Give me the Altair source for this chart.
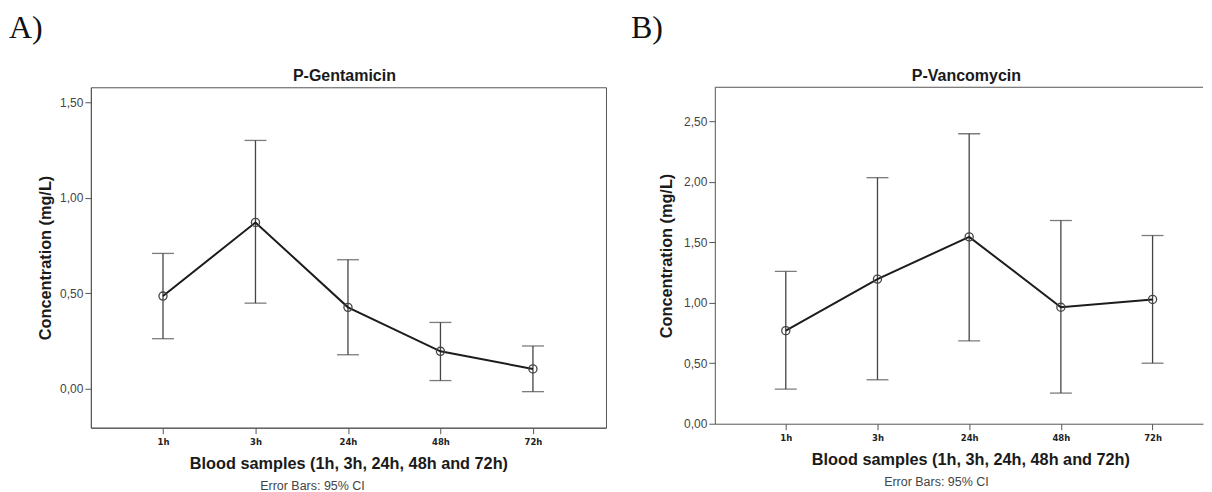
import altair as alt
import pandas as pd

# ---- data ----
times = ["1h", "3h", "24h", "48h", "72h"]

gent_mean = [0.486, 0.871, 0.427, 0.197, 0.105]
gent_low = [0.263, 0.449, 0.179, 0.044, -0.014]
gent_high = [0.709, 1.300, 0.676, 0.348, 0.225]

vanc_mean = [0.769, 1.195, 1.544, 0.962, 1.027]
vanc_low = [0.286, 0.363, 0.684, 0.253, 0.500]
vanc_high = [1.258, 2.033, 2.396, 1.679, 1.555]

gent_ticks = [0.0, 0.5, 1.0, 1.5]
vanc_ticks = [0.0, 0.5, 1.0, 1.5, 2.0, 2.5]

FRAME = "#555555"
BAR = "#444444"
LINE = "#1c1c1c"

x_label_expr = "[" + ",".join(f"'{t}'" for t in times) + "][datum.value]"
y_label_expr = "replace(format(datum.value, '.2f'), '.', ',')"


def panel(mean, low, high, title, letter, ydomain, yticks, xdomain, width, height,
          ytitle_pad, framed, title_x, xtitle_x, letter_x):
    df = pd.DataFrame({"idx": list(range(len(times))), "time": times,
                       "mean": mean, "low": low, "high": high})
    xscale = alt.Scale(domain=xdomain, nice=False, zero=False)
    yscale = alt.Scale(domain=ydomain, nice=False, zero=False)
    xaxis_kw = dict(values=list(range(len(times))), labelExpr=x_label_expr,
                    title="Blood samples (1h, 3h, 24h, 48h and 72h)",
                    grid=False, domainColor=FRAME, tickColor=FRAME, tickSize=6,
                    labelFont="DejaVu Sans", labelFontWeight="bold", labelFontSize=8.5,
                    labelColor="#222222", labelPadding=4,
                    titleFont="Liberation Sans", titleFontSize=16.3, titleFontWeight="bold",
                    titleColor="#1a1a1a", titlePadding=9)
    if xtitle_x is not None:
        xaxis_kw["titleX"] = xtitle_x
    xaxis = alt.Axis(**xaxis_kw)
    yaxis = alt.Axis(values=yticks, labelExpr=y_label_expr, title="Concentration (mg/L)",
                     grid=False, domainColor=FRAME, tickColor=FRAME, tickSize=6,
                     labelFont="Liberation Sans", labelFontSize=12, labelColor="#444444",
                     labelPadding=2,
                     titleFont="Liberation Sans", titleFontSize=16.3, titleFontWeight="bold",
                     titleColor="#1a1a1a", titlePadding=ytitle_pad)
    X = alt.X("idx:Q", scale=xscale, axis=xaxis)
    base = alt.Chart(df)
    rules = base.mark_rule(color=BAR, strokeWidth=1.3).encode(
        x=X, y=alt.Y("low:Q", scale=yscale, axis=yaxis), y2="high:Q")
    cap_lo = base.mark_tick(orient="horizontal", size=22, thickness=1.3, color=BAR).encode(
        x=X, y=alt.Y("low:Q", scale=yscale, axis=yaxis))
    cap_hi = base.mark_tick(orient="horizontal", size=22, thickness=1.3, color=BAR).encode(
        x=X, y=alt.Y("high:Q", scale=yscale, axis=yaxis))
    line = base.mark_line(color=LINE, strokeWidth=2).encode(
        x=X, y=alt.Y("mean:Q", scale=yscale, axis=yaxis))
    pts = base.mark_point(shape="circle", size=66, filled=False, color=BAR,
                          strokeWidth=1.3, opacity=1).encode(
        x=X, y=alt.Y("mean:Q", scale=yscale, axis=yaxis))
    lab = alt.Chart(pd.DataFrame({"t": [letter]})).mark_text(
        font="Liberation Serif", fontSize=32, align="left", baseline="top",
        color="#111111").encode(text="t:N", x=alt.value(letter_x), y=alt.value(-74))
    ttl = alt.Chart(pd.DataFrame({"t": [title]})).mark_text(
        font="Liberation Sans", fontSize=16, fontWeight="bold", align="center",
        baseline="alphabetic", color="#1a1a1a").encode(
        text="t:N", x=alt.value(title_x), y=alt.value(-6))
    note = alt.Chart(pd.DataFrame({"t": ["Error Bars: 95% CI"]})).mark_text(
        font="Liberation Sans", fontSize=12.5, align="center", baseline="middle",
        color="#444444").encode(text="t:N", x=alt.value(222), y=alt.value(height + 58))
    layers = [rules, cap_lo, cap_hi, line, pts, lab, ttl, note]
    if not framed:
        top = alt.Chart(pd.DataFrame({"t": [0]})).mark_rule(color=FRAME, strokeWidth=1).encode(
            x=alt.value(0), x2=alt.value(width), y=alt.value(0))
        layers.append(top)
    return alt.layer(*layers).properties(
        width=width, height=height,
        view=alt.ViewBackground(stroke=FRAME if framed else None, strokeWidth=1))


A = panel(gent_mean, gent_low, gent_high, "P-Gentamicin", "A)",
          [-0.2025, 1.578], gent_ticks, [-0.78, 4.79], 516, 341, 6, True, 254, None, -82)
B = panel(vanc_mean, vanc_low, vanc_high, "P-Vancomycin", "B)",
          [0.0, 2.78], vanc_ticks, [-0.774, 4.55], 489, 337, 9, False, 252, 256, -84)

chart = alt.hconcat(A, B, spacing=24).properties(
    padding={"left": 0, "top": 3, "right": 0, "bottom": 0},
    background="white")

chart.save("out.html", embed_options={"renderer": "svg", "actions": False})
